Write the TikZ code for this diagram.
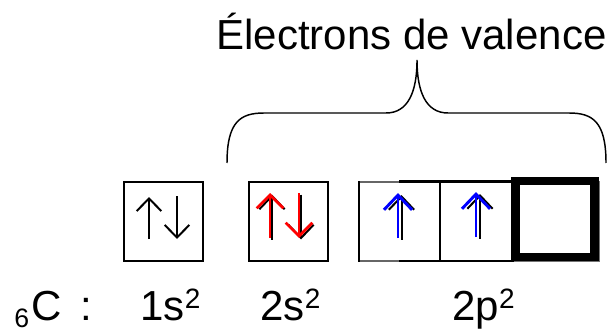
\documentclass[tikz,border=0pt]{standalone}
\usepackage{fontspec}
\setmainfont{Liberation Sans}
\usetikzlibrary{arrows.meta}
\newcommand{\supr}[1]{\raisebox{9pt}{\fontsize{21}{21}\selectfont #1}}
\begin{document}
\begin{tikzpicture}[x=0.75pt,y=-0.75pt,
  orb/.style={draw=black, line width=1.25pt, minimum width=59.25pt, minimum height=59.25pt, inner sep=0pt},
  thickorb/.style={draw=black, line width=6.4pt, miter limit=10, minimum width=59.25pt, minimum height=57pt, inner sep=0pt},
  lbl/.style={font=\fontsize{31.5}{36}\selectfont, inner sep=0pt, anchor=base},
  spin/.style={line width=1.5pt, -{Straight Barb[length=9.5pt,width=18.5pt]}},
  redspin/.style={line width=2pt, red, -{Straight Barb[length=10pt,width=20pt]}},
  bluespin/.style={line width=2.2pt, blue, -{Straight Barb[length=11pt,width=21pt]}},
  shadow/.style={line width=1.5pt, black, -{Straight Barb[length=10pt,width=19pt]}},
  brace/.style={line width=1.1pt, black}
]
\useasboundingbox (0,0) rectangle (616,331);

% title
\node[lbl] (title) at (411.5,50) {Électrons de valence};

% brace
\coordinate (bl) at (227,163);
\coordinate (br) at (606,163);
\coordinate (tip) at (417,60);
\draw[brace] (bl) .. controls (227,122) and (240,113) .. (264,113)
  -- (386,113) .. controls (408,113) and (417,92) .. (tip)
  .. controls (417,92) and (426,113) .. (448,113)
  -- (569,113) .. controls (593,113) and (606,122) .. (br);

% orbital boxes
\node[orb] (b1) at (163.5,221.5) {};
\node[orb] (b2) at (288.5,221.5) {};
\draw[line width=1.2pt, black!55] (359,181.5) rectangle (599,261.5);
\node[orb, draw=black!60, minimum width=60.4pt] (p1) at (399.75,221.5) {};
\draw[line width=1.3pt] (p1.north west) -- (p1.south west);
\draw[line width=1.7pt] (399,181.5) -- (514,181.5);
\draw[line width=1.7pt] (399,261) -- (514,261);
\draw[line width=1.7pt] (440,181.5) -- (440,261);
\node[thickorb] (p3) at (555,219) {};

% spins 1s
\draw[spin] (149,239) -- (149,197);
\draw[spin] (177,196) -- (177,239);
% spins 2s
\draw[shadow] (272,239.5) -- (272,194.5);
\draw[redspin] (270,238) -- (270,193);
\draw[shadow] (301,194.5) -- (301,239.5);
\draw[redspin] (299,193) -- (299,238);
% spins 2p
\draw[shadow] (401.5,239.5) -- (401.5,195);
\draw[bluespin] (398,238) -- (398,193);
\draw[shadow] (480,238.5) -- (480,194);
\draw[bluespin] (476,237) -- (476,192);

% labels
\node[font=\fontsize{20}{24}\selectfont, inner sep=0pt, anchor=base west] (z) at (14,327) {6};
\node[lbl, anchor=base west] (c) at (31,320) {C};
\node[lbl, anchor=base west] (colon) at (80,320) {:};
\node[lbl] (l1s) at (170.5,320) {1s\supr{2}};
\node[lbl] (l2s) at (290.5,320) {2s\supr{2}};
\node[lbl] (l2p) at (483.5,320) {2p\supr{2}};
\end{tikzpicture}
\end{document}
